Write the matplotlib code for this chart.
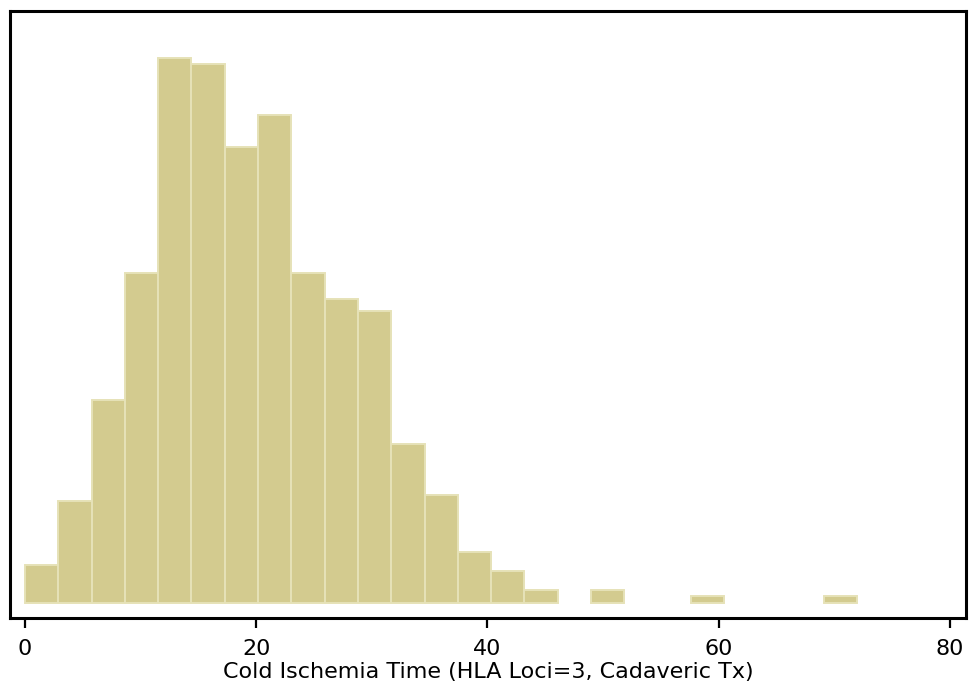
import numpy as np
import matplotlib
matplotlib.use("Agg")
import matplotlib.pyplot as plt

# histogram of cold ischemia time, 25 bins over 0-72 hours
BIN_EDGES = np.linspace(0, 72, 26)
COUNTS = [6, 16, 32, 52, 86, 85, 72, 77, 52, 48, 46, 25, 17, 8, 5,
          2, 0, 2, 0, 0, 1, 0, 0, 0, 1]
XTICKS = [0, 20, 40, 60, 80]
XLABEL = "Cold Ischemia Time (HLA Loci=3, Cadaveric Tx)"

fig = plt.figure(figsize=(9.69, 6.83), dpi=100)
ax = fig.add_axes([10 / 969, 1 - 618 / 683, 956 / 969, 607 / 683])

counts = np.array(COUNTS)
lefts = BIN_EDGES[:-1]
widths = np.diff(BIN_EDGES)
keep = counts > 0  # empty bins draw nothing
ax.bar(lefts[keep], counts[keep], width=widths[keep], align="edge",
       color="#d3cb8f", edgecolor="#e6e2b8", linewidth=1.4)

ax.set_xlim(-1.3, 81.4)
ax.set_ylim(-2.4, 93.4)
ax.set_xticks(XTICKS)
ax.set_yticks([])
ax.tick_params(axis="x", length=7.2, width=1.6, labelsize=16, pad=7.8)
for s in ax.spines.values():
    s.set_linewidth(2.2)
ax.set_xlabel(XLABEL, fontsize=16, labelpad=2.5)

fig.savefig("out.png", dpi=100)
